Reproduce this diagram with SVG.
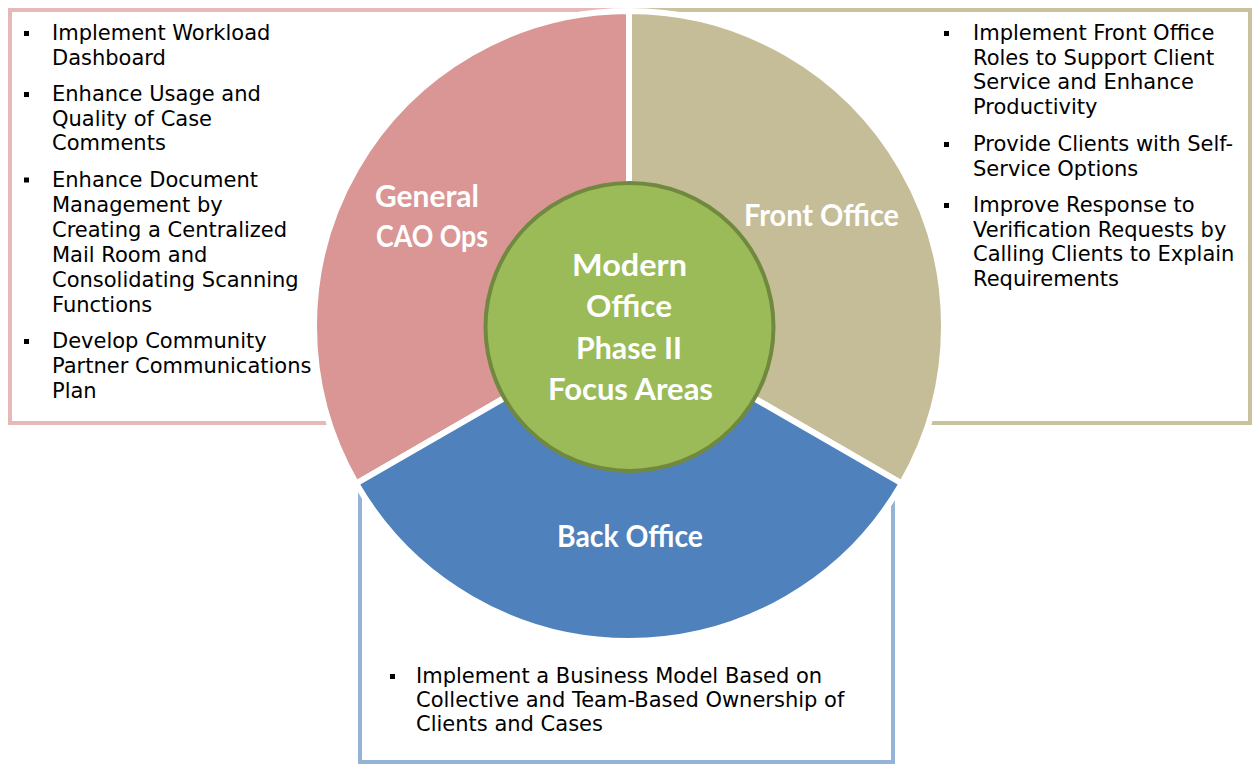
<svg xmlns="http://www.w3.org/2000/svg" width="1252" height="766" viewBox="0 0 1252 766">
<style>
.box{fill:#ffffff;stroke-width:4}
.sec{stroke:#ffffff;stroke-width:6;stroke-linejoin:miter}
.t{font-family:"DejaVu Sans","Verdana",sans-serif;font-size:21px;fill:#000000}
.h{font-family:Lato,"Liberation Sans",sans-serif;font-weight:bold;font-size:30px;fill:#ffffff}
.b{fill:#000000}
</style>
<rect width="1252" height="766" fill="#ffffff"/>
<g id="box-general">
<rect class="box" x="10" y="10" width="619" height="413" stroke="#E6B9B8"/>
</g>
<g id="box-front">
<rect class="box" x="631" y="10" width="619" height="413" stroke="#C9C29F"/>
</g>
<g id="box-back">
<rect class="box" x="360" y="488" width="533" height="274" stroke="#95B3D7"/>
</g>
<g id="sector-general">
<path class="sec" fill="#D99694" d="M629,326 L629,11 A315,315 0 0 0 356.2,483.5 Z"/>
<text class="h" x="375" y="207" textLength="104" lengthAdjust="spacingAndGlyphs">General</text>
<text class="h" x="376" y="247" textLength="112" lengthAdjust="spacingAndGlyphs">CAO Ops</text>
</g>
<g id="sector-front">
<path class="sec" fill="#C4BD97" d="M629,326 L629,11 A315,315 0 0 1 901.8,483.5 Z"/>
<text class="h" x="744" y="226" textLength="155" lengthAdjust="spacingAndGlyphs">Front Office</text>
</g>
<g id="sector-back">
<path class="sec" fill="#4F81BD" d="M629,326 L901.8,483.5 A315,315 0 0 1 356.2,483.5 Z"/>
<text class="h" x="557" y="547" textLength="146" lengthAdjust="spacingAndGlyphs">Back Office</text>
</g>
<g id="center">
<circle cx="629.5" cy="327" r="144" fill="#9BBB59" stroke="#71893F" stroke-width="4"/>
<text class="h" x="572" y="276" textLength="115" lengthAdjust="spacingAndGlyphs">Modern</text>
<text class="h" x="586" y="317" textLength="86" lengthAdjust="spacingAndGlyphs">Office</text>
<text class="h" x="576" y="359" textLength="106" lengthAdjust="spacingAndGlyphs">Phase II</text>
<text class="h" x="548" y="400" textLength="165" lengthAdjust="spacingAndGlyphs">Focus Areas</text>
</g>
<g id="list-general">
<rect class="b" x="24" y="31" width="5" height="5"/>
<text class="t" x="52" y="40">Implement Workload</text>
<text class="t" x="52" y="64.5">Dashboard</text>
<rect class="b" x="24" y="92" width="5" height="5"/>
<text class="t" x="52" y="101">Enhance Usage and</text>
<text class="t" x="52" y="125.5">Quality of Case</text>
<text class="t" x="52" y="150">Comments</text>
<rect class="b" x="24" y="177.5" width="5" height="5"/>
<text class="t" x="52" y="186.5">Enhance Document</text>
<text class="t" x="52" y="211.5">Management by</text>
<text class="t" x="52" y="236.5">Creating a Centralized</text>
<text class="t" x="52" y="261.5">Mail Room and</text>
<text class="t" x="52" y="286.5">Consolidating Scanning</text>
<text class="t" x="52" y="311.5">Functions</text>
<rect class="b" x="24" y="339" width="5" height="5"/>
<text class="t" x="52" y="348">Develop Community</text>
<text class="t" x="52" y="373">Partner Communications</text>
<text class="t" x="52" y="398">Plan</text>
</g>
<g id="list-front">
<rect class="b" x="944" y="31" width="5" height="5"/>
<text class="t" x="973" y="40">Implement Front Office</text>
<text class="t" x="973" y="64.5">Roles to Support Client</text>
<text class="t" x="973" y="89">Service and Enhance</text>
<text class="t" x="973" y="113.5">Productivity</text>
<rect class="b" x="944" y="142" width="5" height="5"/>
<text class="t" x="973" y="151">Provide Clients with Self-</text>
<text class="t" x="973" y="175.5">Service Options</text>
<rect class="b" x="944" y="203" width="5" height="5"/>
<text class="t" x="973" y="212">Improve Response to</text>
<text class="t" x="973" y="236.5">Verification Requests by</text>
<text class="t" x="973" y="261">Calling Clients to Explain</text>
<text class="t" x="973" y="285.5">Requirements</text>
</g>
<g id="list-back">
<rect class="b" x="390" y="674" width="5" height="5"/>
<text class="t" x="416" y="683">Implement a Business Model Based on</text>
<text class="t" x="416" y="707">Collective and Team-Based Ownership of</text>
<text class="t" x="416" y="731">Clients and Cases</text>
</g>
<g id="connectors"></g>
</svg>
